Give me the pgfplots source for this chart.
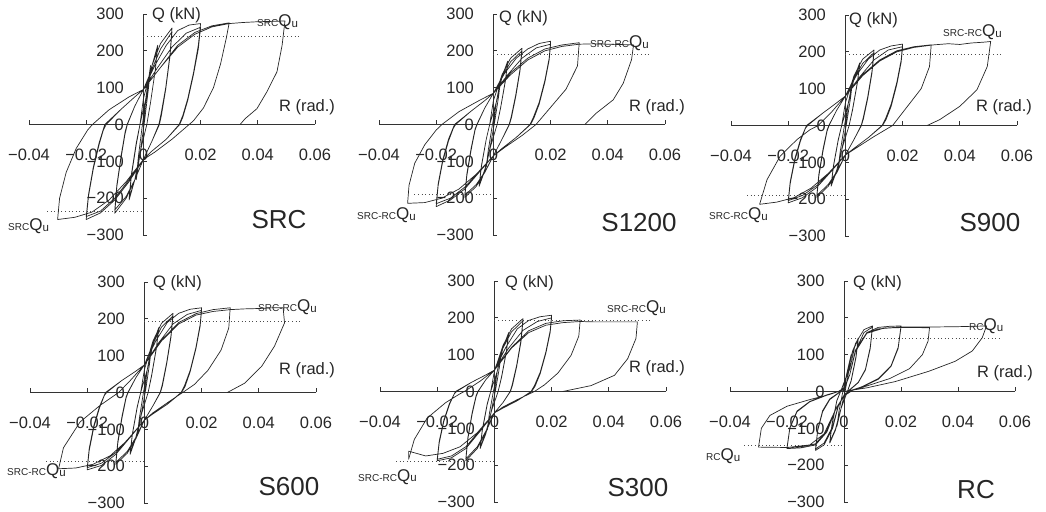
\documentclass[border=0pt]{standalone}
\usepackage{fontspec}
\setmainfont{Liberation Sans}
\usepackage{pgfplots}
\pgfplotsset{compat=1.18}

\newcommand{\Qu}[1]{{\fontsize{10}{10}\selectfont #1}{\fontsize{17}{17}\selectfont Q}{\fontsize{11.5}{11.5}\selectfont\raisebox{-1pt}{u}}}
\newcommand{\bigname}{\fontsize{26}{26}\selectfont}
\newcommand{\lab}{\fontsize{16.5}{18}\selectfont}

\pgfplotsset{
  hyst/.style={
    scale only axis, width=286pt, height=221pt,
    anchor=south west, clip=false,
    axis lines=middle, axis line style={-, line width=0.7pt, black!80},
    xmin=-0.04, xmax=0.06, ymin=-300, ymax=300,
    scaled x ticks=false, scaled y ticks=false,
    xtick={-0.04,-0.02,0,0.02,0.04,0.06},
    xticklabels={−0.04,−0.02,0,0.02,0.04,0.06},
    ytick={-300,-200,-100,0,100,200,300},
    yticklabels={−300,−200,−100,0,100,200,300},
    hide obscured x ticks=false, hide obscured y ticks=false,
    tick align=inside, major tick length=4pt,
    tick style={line width=0.7pt, black!80},
    ticklabel style={font=\lab, text=black!85},
    xticklabel style={anchor=base, yshift=-36pt},
    yticklabel style={anchor=east, xshift=-16pt},
  },
  curve/.style={black!85, line width=0.7pt, line join=round},
  qu/.style={black!70, line width=0.7pt, dash pattern=on 1pt off 2.6pt},
}

\begin{document}
\begin{tikzpicture}
\path[use as bounding box] (0pt,0pt) rectangle (1046pt,511pt);

% ---------- SRC ----------
\begin{axis}[hyst, at={(29pt,276pt)}]
\addplot[qu] coordinates {(0,239) (0.055,239)};
\addplot[qu] coordinates {(-0.0337,-236) (0,-236)};
\addplot[curve] coordinates {
(0,0) (0.001,80) (0.0025,160) (0.0018,100) (0.0005,15) (-0.001,-70) (-0.0025,-150) (-0.0018,-90) (-0.0005,-10)
(0.001,80) (0.0025,160) (0.0018,100) (0.0005,15) (-0.001,-70) (-0.0025,-150) (-0.0018,-90) (-0.0005,-10)
(0.001,70) (0.003,160) (0.005,215) (0.0042,150) (0.0025,60) (0.0012,0) (-0.001,-70) (-0.003,-150) (-0.005,-205) (-0.0042,-140) (-0.0025,-55) (-0.0012,0)
(0.001,75) (0.003,160) (0.005,212) (0.0042,150) (0.0025,60) (0.0012,0) (-0.001,-70) (-0.003,-150) (-0.005,-200) (-0.0042,-135) (-0.0025,-50) (-0.0012,0)
(0,70) (0.003,160) (0.006,220) (0.01,262) (0.0093,190) (0.0078,100) (0.0062,30) (0.0054,0) (0.003,-45) (0,-95) (-0.003,-150) (-0.006,-200) (-0.01,-241) (-0.0093,-170) (-0.0078,-90) (-0.0064,-25) (-0.0056,0) (-0.003,50) (0,95)
(0.003,150) (0.006,205) (0.01,252) (0.0093,185) (0.0078,95) (0.0063,25) (0.0056,0) (0.003,-45) (0,-95) (-0.003,-150) (-0.006,-195) (-0.01,-232) (-0.0093,-165) (-0.0078,-85) (-0.0064,-20) (-0.0057,0) (-0.003,50) (0,95)
(0.004,160) (0.008,215) (0.012,255) (0.016,270) (0.02,274) (0.0192,215) (0.0175,140) (0.0155,70) (0.0138,25) (0.0125,0) (0.008,-40) (0.003,-72) (0,-95) (-0.005,-155) (-0.01,-205) (-0.015,-240) (-0.02,-258) (-0.0192,-195) (-0.0175,-120) (-0.0155,-55) (-0.014,-15) (-0.013,0) (-0.008,40) (-0.003,75) (0,95)
(0.005,155) (0.01,210) (0.015,248) (0.02,264) (0.0192,205) (0.0175,135) (0.0155,65) (0.0138,20) (0.0127,0) (0.008,-40) (0.003,-72) (0,-95) (-0.005,-150) (-0.01,-200) (-0.015,-235) (-0.02,-250) (-0.0192,-190) (-0.0175,-115) (-0.0155,-50) (-0.0135,0) (-0.008,40) (-0.003,75) (0,95)
(0.006,155) (0.012,215) (0.018,250) (0.024,268) (0.03,276) (0.029,235) (0.027,165) (0.0245,100) (0.021,45) (0.0175,10) (0.016,0) (0.01,-40) (0.004,-75) (0,-95) (-0.006,-155) (-0.012,-205) (-0.018,-238) (-0.024,-252) (-0.03,-258) (-0.0293,-200) (-0.027,-130) (-0.0235,-65) (-0.0195,-15) (-0.0178,0) (-0.012,40) (-0.005,75) (0,95)
(0.006,155) (0.012,210) (0.018,245) (0.024,265) (0.03,274) (0.035,277) (0.04,279) (0.045,280) (0.0495,281) (0.0485,215) (0.0467,143) (0.0432,89) (0.0397,43) (0.0356,16) (0.0338,0)
};
\end{axis}

% ---------- S1200 ----------
\begin{axis}[hyst, at={(379pt,276pt)}]
\addplot[qu] coordinates {(0,190) (0.055,190)};
\addplot[qu] coordinates {(-0.0276,-190) (0,-190)};
\addplot[curve] coordinates {
(0,0) (0.001,60) (0.0025,120) (0.0018,75) (0.0005,10) (-0.001,-55) (-0.0025,-115) (-0.0018,-70) (-0.0005,-8)
(0.001,60) (0.0025,122) (0.0018,75) (0.0005,10) (-0.001,-55) (-0.0025,-115) (-0.0018,-70) (-0.0005,-8)
(0.001,60) (0.003,130) (0.005,172) (0.0042,120) (0.0025,45) (0.0013,0) (-0.001,-60) (-0.003,-125) (-0.005,-168) (-0.0042,-115) (-0.0025,-40) (-0.0013,0)
(0.001,60) (0.003,128) (0.005,168) (0.0042,118) (0.0025,44) (0.0013,0) (-0.001,-60) (-0.003,-122) (-0.005,-165) (-0.0042,-112) (-0.0025,-40) (-0.0013,0)
(0,65) (0.003,135) (0.006,180) (0.01,207) (0.0093,150) (0.0078,80) (0.0062,20) (0.0055,0) (0.003,-40) (0,-85) (-0.003,-130) (-0.006,-168) (-0.01,-198) (-0.0093,-140) (-0.0078,-70) (-0.0064,-15) (-0.0057,0) (-0.003,45) (0,85)
(0.003,128) (0.006,170) (0.01,200) (0.0093,145) (0.0078,75) (0.0063,18) (0.0056,0) (0.003,-40) (0,-85) (-0.003,-128) (-0.006,-163) (-0.01,-192) (-0.0093,-135) (-0.0078,-65) (-0.0064,-12) (-0.0058,0) (-0.003,45) (0,85)
(0.004,140) (0.008,180) (0.012,205) (0.016,220) (0.02,226) (0.0195,180) (0.018,120) (0.016,60) (0.014,20) (0.0128,0) (0.008,-35) (0.003,-65) (0,-85) (-0.005,-130) (-0.01,-175) (-0.015,-205) (-0.02,-223) (-0.0193,-165) (-0.0177,-100) (-0.0157,-45) (-0.014,-10) (-0.0132,0) (-0.008,35) (-0.003,65) (0,85)
(0.005,135) (0.01,180) (0.015,208) (0.02,218) (0.0195,175) (0.018,115) (0.016,55) (0.0142,18) (0.013,0) (0.008,-35) (0.003,-65) (0,-85) (-0.005,-128) (-0.01,-170) (-0.015,-200) (-0.02,-215) (-0.0193,-160) (-0.0177,-95) (-0.0157,-40) (-0.0136,0) (-0.008,35) (-0.003,65) (0,85)
(0.006,140) (0.012,180) (0.018,205) (0.024,216) (0.03,222) (0.0294,159) (0.0254,96) (0.0195,42) (0.0149,0) (0.01,-30) (0.004,-62) (0,-85) (-0.006,-135) (-0.012,-175) (-0.018,-200) (-0.024,-212) (-0.03,-214) (-0.0295,-165) (-0.0275,-105) (-0.024,-55) (-0.02,-15) (-0.018,0) (-0.012,35) (-0.005,65) (0,85)
(0.006,135) (0.012,175) (0.018,200) (0.024,212) (0.03,218) (0.035,219) (0.04,218) (0.045,217) (0.049,216) (0.0483,176) (0.0454,112) (0.0419,67) (0.036,31) (0.032,0)
};
\end{axis}

% ---------- S900 ----------
\begin{axis}[hyst, at={(731pt,275pt)}]
\addplot[qu] coordinates {(0,192) (0.0552,192)};
\addplot[qu] coordinates {(-0.0344,-190) (0,-190)};
\addplot[curve] coordinates {
(0,0) (0.001,60) (0.0025,120) (0.0018,75) (0.0005,10) (-0.001,-55) (-0.0025,-115) (-0.0018,-70) (-0.0005,-8)
(0.001,60) (0.0025,120) (0.0018,75) (0.0005,10) (-0.001,-55) (-0.0025,-115) (-0.0018,-70) (-0.0005,-8)
(0.001,60) (0.003,128) (0.005,170) (0.0042,118) (0.0025,44) (0.0013,0) (-0.001,-58) (-0.003,-122) (-0.005,-165) (-0.0042,-112) (-0.0025,-40) (-0.0013,0)
(0.001,60) (0.003,126) (0.005,166) (0.0042,116) (0.0025,42) (0.0013,0) (-0.001,-58) (-0.003,-120) (-0.005,-162) (-0.0042,-110) (-0.0025,-38) (-0.0013,0)
(0,62) (0.003,135) (0.006,180) (0.01,205) (0.0093,148) (0.0078,78) (0.0062,20) (0.0055,0) (0.003,-38) (0,-80) (-0.003,-128) (-0.006,-165) (-0.01,-195) (-0.0093,-138) (-0.0078,-68) (-0.0064,-15) (-0.0057,0) (-0.003,42) (0,80)
(0.003,128) (0.006,168) (0.01,198) (0.0093,143) (0.0078,73) (0.0063,18) (0.0056,0) (0.003,-38) (0,-80) (-0.003,-125) (-0.006,-160) (-0.01,-190) (-0.0093,-133) (-0.0078,-63) (-0.0064,-12) (-0.0058,0) (-0.003,42) (0,80)
(0.004,138) (0.008,180) (0.012,205) (0.016,216) (0.02,221) (0.0195,178) (0.018,118) (0.016,58) (0.014,18) (0.0128,0) (0.008,-33) (0.003,-62) (0,-80) (-0.005,-125) (-0.01,-168) (-0.015,-196) (-0.02,-210) (-0.0193,-158) (-0.0177,-95) (-0.0157,-42) (-0.014,-8) (-0.0132,0) (-0.008,33) (-0.003,62) (0,80)
(0.005,132) (0.01,178) (0.015,205) (0.02,214) (0.0195,172) (0.018,112) (0.016,52) (0.0142,16) (0.013,0) (0.008,-33) (0.003,-62) (0,-80) (-0.005,-122) (-0.01,-163) (-0.015,-190) (-0.02,-204) (-0.0193,-152) (-0.0177,-90) (-0.0157,-38) (-0.0136,0) (-0.008,33) (-0.003,62) (0,80)
(0.006,138) (0.012,178) (0.018,203) (0.024,214) (0.03,219) (0.0294,160) (0.0265,100) (0.021,45) (0.0165,0) (0.01,-30) (0.004,-60) (0,-80) (-0.006,-130) (-0.012,-170) (-0.018,-196) (-0.024,-208) (-0.03,-214) (-0.0274,-147) (-0.0228,-83) (-0.0169,-38) (-0.0123,-11) (-0.0095,0) (-0.005,35) (0,80)
(0.006,135) (0.012,175) (0.018,200) (0.024,212) (0.031,219) (0.036,222) (0.04,220) (0.044,224) (0.048,226) (0.0508,228) (0.0496,160) (0.046,97) (0.04,52) (0.033,16) (0.0286,0)
};
\end{axis}

% ---------- S600 ----------
\begin{axis}[hyst, at={(30pt,8pt)}]
\addplot[qu] coordinates {(0,192) (0.0553,192)};
\addplot[qu] coordinates {(-0.0344,-188) (0,-188)};
\addplot[curve] coordinates {
(0,0) (0.001,62) (0.0025,125) (0.0018,78) (0.0005,10) (-0.001,-55) (-0.0025,-118) (-0.0018,-72) (-0.0005,-8)
(0.001,62) (0.0025,125) (0.0018,78) (0.0005,10) (-0.001,-55) (-0.0025,-118) (-0.0018,-72) (-0.0005,-8)
(0.001,62) (0.003,132) (0.005,176) (0.0042,122) (0.0025,46) (0.0013,0) (-0.001,-58) (-0.003,-124) (-0.005,-168) (-0.0042,-114) (-0.0025,-40) (-0.0013,0)
(0.001,62) (0.003,130) (0.005,172) (0.0042,120) (0.0025,44) (0.0013,0) (-0.001,-58) (-0.003,-122) (-0.005,-164) (-0.0042,-112) (-0.0025,-38) (-0.0013,0)
(0,62) (0.003,140) (0.006,188) (0.01,215) (0.0093,155) (0.0078,82) (0.0062,20) (0.0055,0) (0.003,-36) (0,-75) (-0.003,-126) (-0.006,-165) (-0.01,-195) (-0.0093,-138) (-0.0078,-68) (-0.0064,-15) (-0.0057,0) (-0.003,40) (0,75)
(0.003,132) (0.006,178) (0.01,208) (0.0093,150) (0.0078,78) (0.0063,18) (0.0056,0) (0.003,-36) (0,-75) (-0.003,-122) (-0.006,-160) (-0.01,-190) (-0.0093,-133) (-0.0078,-63) (-0.0064,-12) (-0.0058,0) (-0.003,40) (0,75)
(0.004,140) (0.008,190) (0.012,215) (0.016,226) (0.02,230) (0.0195,185) (0.018,122) (0.016,60) (0.014,18) (0.0128,0) (0.008,-32) (0.003,-58) (0,-75) (-0.005,-122) (-0.01,-168) (-0.015,-198) (-0.02,-210) (-0.0193,-158) (-0.0177,-95) (-0.0157,-42) (-0.014,-8) (-0.0132,0) (-0.008,32) (-0.003,58) (0,75)
(0.005,135) (0.01,186) (0.015,212) (0.02,223) (0.0195,180) (0.018,118) (0.016,56) (0.0142,16) (0.013,0) (0.008,-32) (0.003,-58) (0,-75) (-0.005,-120) (-0.01,-163) (-0.015,-192) (-0.02,-204) (-0.0193,-152) (-0.0177,-90) (-0.0157,-38) (-0.0136,0) (-0.008,32) (-0.003,58) (0,75)
(0.006,142) (0.012,190) (0.018,214) (0.024,225) (0.03,230) (0.0295,175) (0.0268,115) (0.0222,60) (0.0175,22) (0.0134,0) (0.008,-28) (0.003,-55) (0,-75) (-0.006,-130) (-0.012,-172) (-0.018,-195) (-0.024,-205) (-0.03,-207) (-0.0283,-150) (-0.0225,-80) (-0.0155,-35) (-0.0105,-8) (-0.009,0) (-0.005,32) (0,75)
(0.006,140) (0.012,186) (0.018,210) (0.024,220) (0.03,225) (0.035,227) (0.04,228) (0.045,230) (0.0485,230) (0.049,189) (0.0455,126) (0.041,71) (0.035,25) (0.029,0)
};
\end{axis}

% ---------- S300 ----------
\begin{axis}[hyst, at={(380pt,9pt)}]
\addplot[qu] coordinates {(0,193) (0.0553,193)};
\addplot[qu] coordinates {(-0.0344,-190) (0,-190)};
\addplot[curve] coordinates {
(0,0) (0.001,55) (0.0025,110) (0.0018,68) (0.0005,8) (-0.001,-50) (-0.0025,-105) (-0.0018,-62) (-0.0005,-6)
(0.001,55) (0.0025,110) (0.0018,68) (0.0005,8) (-0.001,-50) (-0.0025,-105) (-0.0018,-62) (-0.0005,-6)
(0.001,55) (0.003,120) (0.005,160) (0.0042,110) (0.0025,40) (0.0013,0) (-0.001,-52) (-0.003,-115) (-0.005,-155) (-0.0042,-105) (-0.0025,-35) (-0.0013,0)
(0.001,55) (0.003,118) (0.005,156) (0.0042,108) (0.0025,38) (0.0013,0) (-0.001,-52) (-0.003,-112) (-0.005,-152) (-0.0042,-102) (-0.0025,-33) (-0.0013,0)
(0,55) (0.003,125) (0.006,170) (0.01,198) (0.0093,140) (0.0078,72) (0.0062,18) (0.0055,0) (0.003,-30) (0,-58) (-0.003,-110) (-0.006,-155) (-0.01,-188) (-0.0093,-130) (-0.0078,-62) (-0.0064,-14) (-0.0057,0) (-0.003,32) (0,58)
(0.003,118) (0.006,162) (0.01,192) (0.0093,135) (0.0078,68) (0.0063,16) (0.0056,0) (0.003,-30) (0,-58) (-0.003,-108) (-0.006,-150) (-0.01,-183) (-0.0093,-126) (-0.0078,-58) (-0.0064,-11) (-0.0058,0) (-0.003,32) (0,58)
(0.004,120) (0.008,170) (0.012,193) (0.016,203) (0.02,207) (0.0195,165) (0.018,108) (0.016,52) (0.014,16) (0.0128,0) (0.008,-25) (0.003,-45) (0,-58) (-0.005,-108) (-0.01,-155) (-0.015,-180) (-0.02,-188) (-0.0193,-140) (-0.0177,-82) (-0.0157,-35) (-0.014,-6) (-0.0132,0) (-0.008,25) (-0.003,45) (0,58)
(0.005,118) (0.01,166) (0.015,190) (0.02,200) (0.0195,160) (0.018,104) (0.016,48) (0.0142,14) (0.013,0) (0.008,-25) (0.003,-45) (0,-58) (-0.005,-105) (-0.01,-150) (-0.015,-175) (-0.02,-184) (-0.0193,-135) (-0.0177,-78) (-0.0157,-32) (-0.0136,0) (-0.008,25) (-0.003,45) (0,58)
(0.006,120) (0.012,165) (0.018,185) (0.024,192) (0.03,194) (0.0295,150) (0.0268,98) (0.0222,50) (0.0175,18) (0.014,0) (0.008,-22) (0.003,-42) (0,-58) (-0.006,-112) (-0.012,-150) (-0.018,-168) (-0.024,-175) (-0.03,-162) (-0.03,-184) (-0.028,-130) (-0.0235,-72) (-0.017,-30) (-0.012,-6) (-0.0105,0) (-0.005,28) (0,58)
(0.006,118) (0.012,160) (0.018,180) (0.024,187) (0.03,190) (0.035,189) (0.04,189) (0.045,189) (0.05,189) (0.0495,144) (0.0466,89) (0.042,44) (0.0338,16) (0.0239,0)
};
\end{axis}

% ---------- RC ----------
\begin{axis}[hyst, width=285pt, at={(730pt,9pt)}]
\addplot[qu] coordinates {(0,145) (0.055,145)};
\addplot[qu] coordinates {(-0.035,-145) (0,-145)};
\addplot[curve] coordinates {
(0,0) (0.001,50) (0.0025,100) (0.0018,60) (0.0005,5) (-0.001,-45) (-0.0025,-95) (-0.0018,-55) (-0.0005,-4)
(0.001,50) (0.0025,100) (0.0018,60) (0.0005,5) (-0.001,-45) (-0.0025,-95) (-0.0018,-55) (-0.0005,-4)
(0.001,45) (0.003,110) (0.005,145) (0.0042,95) (0.0025,30) (0.0012,0) (-0.001,-45) (-0.003,-105) (-0.005,-140) (-0.0042,-90) (-0.0025,-25) (-0.0012,0)
(0.001,45) (0.003,108) (0.005,142) (0.0042,92) (0.0025,28) (0.0012,0) (-0.001,-45) (-0.003,-102) (-0.005,-137) (-0.0042,-88) (-0.0025,-24) (-0.0012,0)
(0.002,60) (0.004,130) (0.007,168) (0.01,178) (0.0092,120) (0.0075,60) (0.005,25) (0.002,5) (0,-10) (-0.002,-40) (-0.004,-100) (-0.007,-145) (-0.01,-160) (-0.0092,-105) (-0.0075,-55) (-0.005,-22) (-0.002,-5) (0,10)
(0.002,45) (0.004,110) (0.007,160) (0.01,175) (0.0092,116) (0.0075,58) (0.005,24) (0.002,4) (0,-10) (-0.002,-38) (-0.004,-95) (-0.007,-140) (-0.01,-156) (-0.0092,-102) (-0.0075,-52) (-0.005,-20) (-0.002,-4) (0,10)
(0.002,45) (0.004,110) (0.008,160) (0.012,174) (0.016,177) (0.02,178) (0.019,120) (0.0165,70) (0.012,35) (0.006,12) (0.002,2) (0,-12) (-0.003,-50) (-0.006,-110) (-0.01,-145) (-0.015,-153) (-0.02,-155) (-0.019,-100) (-0.0165,-55) (-0.012,-28) (-0.006,-10) (-0.002,0) (0,10)
(0.002,45) (0.004,108) (0.008,158) (0.012,170) (0.02,175) (0.019,117) (0.0165,68) (0.012,33) (0.006,11) (0.002,2) (0,-12) (-0.003,-48) (-0.006,-106) (-0.01,-142) (-0.015,-150) (-0.02,-152) (-0.019,-98) (-0.0165,-53) (-0.012,-27) (-0.006,-9) (-0.002,0) (0,10)
(0.002,45) (0.004,110) (0.008,158) (0.014,172) (0.022,174) (0.03,173) (0.0295,137) (0.0275,100) (0.023,62) (0.016,35) (0.008,15) (0.003,3) (0,-12) (-0.003,-50) (-0.007,-115) (-0.012,-145) (-0.02,-152) (-0.03,-151) (-0.029,-100) (-0.026,-65) (-0.02,-40) (-0.012,-22) (-0.005,-8) (0,5)
(0.002,45) (0.004,112) (0.008,160) (0.014,172) (0.02,175) (0.03,175) (0.04,176) (0.05,178) (0.0485,146) (0.045,110) (0.039,82) (0.0298,55) (0.018,27) (0.008,10) (0.004,5) (0,0)
};
\end{axis}

% ---------- labels ----------
\begin{scope}[every node/.style={inner sep=0pt, text=black!85}]
\node[anchor=west, font=\lab] at (152pt,496pt) {Q (kN)};
\node[anchor=west, font=\lab] at (499pt,493pt) {Q (kN)};
\node[anchor=west, font=\lab] at (849pt,491pt) {Q (kN)};
\node[anchor=west, font=\lab] at (153pt,228pt) {Q (kN)};
\node[anchor=west, font=\lab] at (505pt,228pt) {Q (kN)};
\node[anchor=west, font=\lab] at (853pt,228pt) {Q (kN)};
\node[font=\lab] at (307pt,404pt) {R (rad.)};
\node[font=\lab] at (657pt,404pt) {R (rad.)};
\node[font=\lab] at (1004pt,404pt) {R (rad.)};
\node[font=\lab] at (307pt,141pt) {R (rad.)};
\node[font=\lab] at (657pt,143pt) {R (rad.)};
\node[font=\lab] at (1005pt,138pt) {R (rad.)};
\node[anchor=base west] at (257pt,484pt) {\Qu{SRC}};
\node[anchor=base west] at (8pt,280pt) {\Qu{SRC}};
\node[anchor=base west] at (590pt,463pt) {\Qu{SRC-RC}};
\node[anchor=base west] at (357pt,291pt) {\Qu{SRC-RC}};
\node[anchor=base west] at (943pt,474pt) {\Qu{SRC-RC}};
\node[anchor=base west] at (709pt,291pt) {\Qu{SRC-RC}};
\node[anchor=base west] at (258pt,199pt) {\Qu{SRC-RC}};
\node[anchor=base west] at (7pt,35pt) {\Qu{SRC-RC}};
\node[anchor=base west] at (607pt,198pt) {\Qu{SRC-RC}};
\node[anchor=base west] at (358pt,30pt) {\Qu{SRC-RC}};
\node[anchor=base west] at (969pt,180pt) {\Qu{RC}};
\node[anchor=base west] at (706pt,50pt) {\Qu{RC}};
\node[font=\bigname] at (279pt,291pt) {SRC};
\node[font=\bigname] at (639pt,288pt) {S1200};
\node[font=\bigname] at (990pt,288pt) {S900};
\node[font=\bigname] at (289pt,24pt) {S600};
\node[font=\bigname] at (638pt,23pt) {S300};
\node[font=\bigname] at (976pt,21pt) {RC};
\end{scope}
\end{tikzpicture}
\end{document}
